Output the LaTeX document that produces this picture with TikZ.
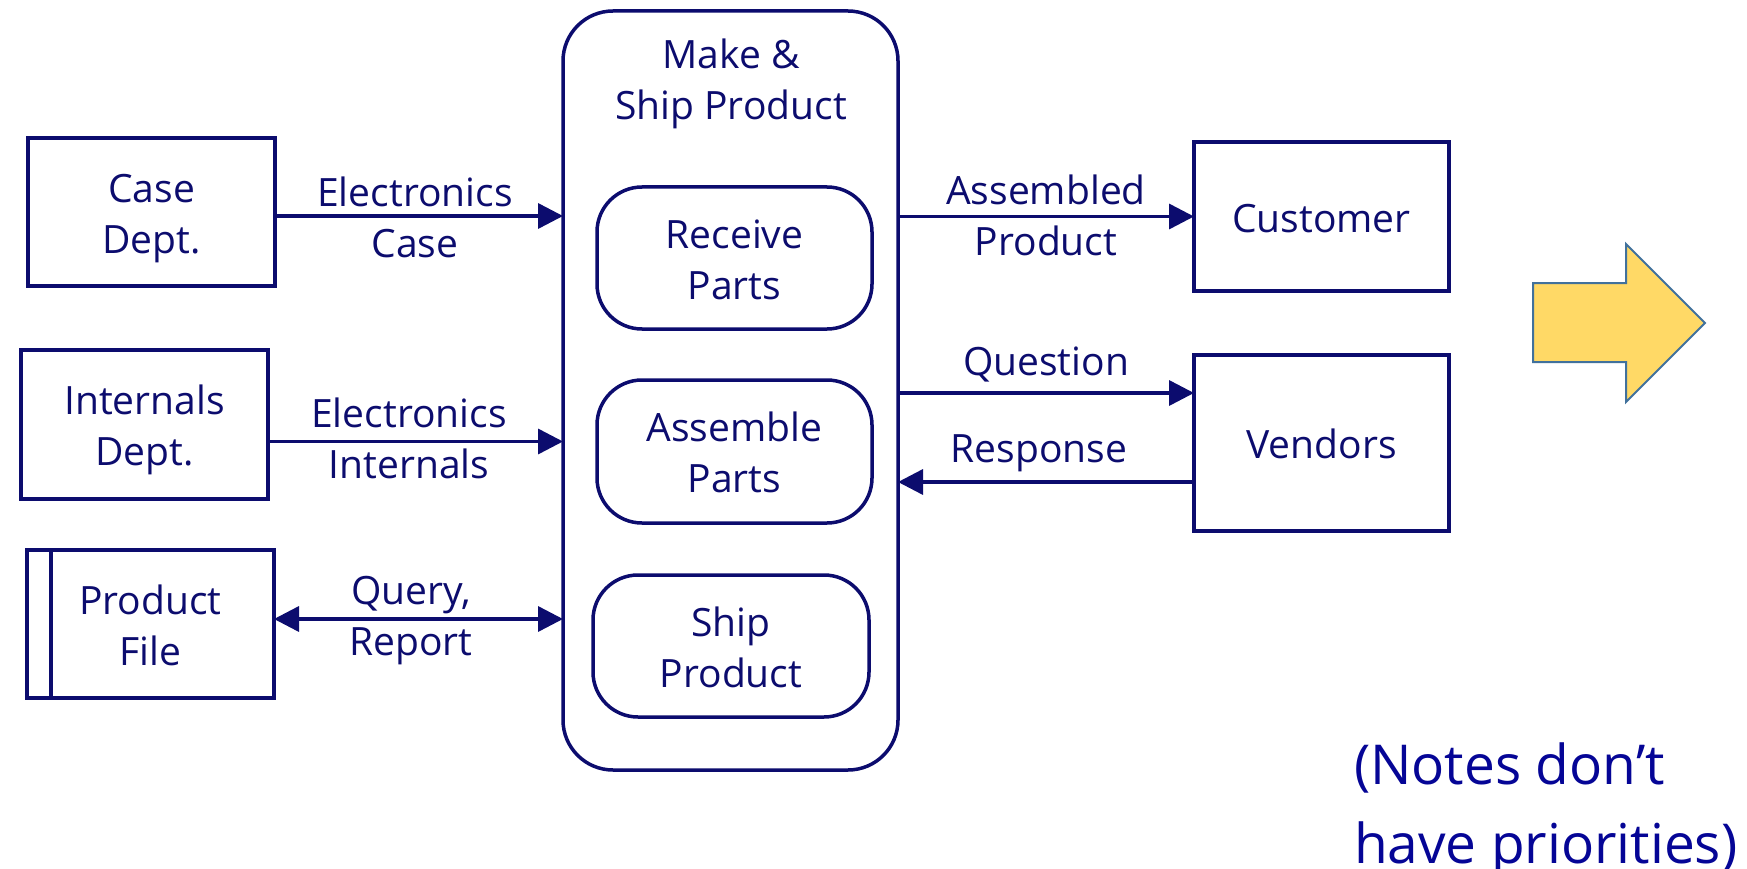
\documentclass[tikz,border=0pt]{standalone}
\usepackage{fontspec}
\setmainfont{Open Sans}
\usetikzlibrary{arrows.meta}
\definecolor{navy}{RGB}{12,12,110}
\definecolor{noteblue}{RGB}{5,5,150}
\definecolor{gold}{RGB}{255,217,102}
\definecolor{goldline}{RGB}{65,113,156}
\newcommand{\ls}{\rule[-10pt]{0pt}{51pt}}
\newcommand{\ns}{\rule[-20pt]{0pt}{79pt}}
\begin{document}
\begin{tikzpicture}[x=1pt,y=-1pt,
  every node/.style={font=\fontsize{39}{51}\selectfont, text=navy, inner sep=0pt, outer sep=0pt, align=center},
  box/.style={draw=navy, line width=4pt, rectangle},
  proc/.style={draw=navy, line width=3.5pt, rectangle, rounded corners=45pt},
  flow/.style={draw=navy, line width=3.5pt, -{Triangle[length=25pt,width=25pt]}},
  biflow/.style={draw=navy, line width=3.5pt, {Triangle[length=25pt,width=25pt]}-{Triangle[length=25pt,width=25pt]}}
]
\fill[white] (0,0) rectangle (1747,869);
\useasboundingbox (0,0) rectangle (1747,869);

% external entities
\node[box, minimum width=247pt, minimum height=148pt] (case) at (151.5,212) {\ls Case\\\ls Dept.};
\node[box, minimum width=247pt, minimum height=149pt] (intl) at (144.5,424.5) {\ls Internals\\\ls Dept.};
\node[box, minimum width=247pt, minimum height=148pt] (pfile) at (150.5,624) {\ls Product\\\ls File};
\draw[navy, line width=4pt] ([xshift=24pt]pfile.north west) -- ([xshift=24pt]pfile.south west);
\node[box, minimum width=255pt, minimum height=148pt] (cust) at (1321.5,216.5) {\ls Customer};
\node[box, minimum width=255pt, minimum height=176pt] (vend) at (1321.5,443) {\ls Vendors};

% main process
\node[draw=navy, line width=3.5pt, rectangle, rounded corners=50pt, minimum width=335pt, minimum height=759pt] (make) at (730.5,390.5) {};
\node (mtitle) at (731,79) {\ls Make \&\\\ls Ship Product};
\node[proc, minimum width=275pt, minimum height=142pt] (recv) at (734.5,258) {\ls Receive\\\ls Parts};
\node[proc, minimum width=275pt, minimum height=143pt] (asm) at (734.5,451.5) {\ls Assemble\\\ls Parts};
\node[proc, minimum width=276pt, minimum height=142pt] (ship) at (731,646) {\ls Ship\\\ls Product};

% flows
\draw[flow] ([yshift=-4pt]case.east) -- ([yshift=-4pt]case.east -| make.west)
  node[pos=0.486] {\ls Electronics\\\ls Case};
\draw[flow] ([yshift=-17pt]intl.east) -- ([yshift=-17pt]intl.east -| make.west)
  node[pos=0.478, yshift=4pt] {\ls Electronics\\\ls Internals};
\draw[biflow] ([yshift=5pt]pfile.east) -- ([yshift=5pt]pfile.east -| make.west)
  node[pos=0.474, yshift=5pt] {\ls Query,\\\ls Report};
\draw[flow] (make.east |- cust.west) -- (cust.west)
  node[midway, yshift=2.5pt] {\ls Assembled\\\ls Product};
\draw[flow] ([yshift=50pt]vend.west -| make.east) -- ([yshift=50pt]vend.west)
  node[midway, above=8pt] {\ls Question};
\draw[flow] ([yshift=-39pt]vend.west) -- ([yshift=-39pt]vend.west -| make.east)
  node[pos=0.524, above=10pt] {\ls Response};

% yellow block arrow
\draw[fill=gold, draw=goldline, line width=2pt, line join=miter]
  (1533,283) -- (1626,283) -- (1626,244) -- (1705,323) -- (1626,402) -- (1626,362) -- (1533,362) -- cycle;

% note
\node[font=\fontsize{55}{79}\selectfont, text=noteblue, align=left, anchor=north west] (notes) at (1354,725)
  {\ns(Notes don’t\\\ns have priorities)};
\end{tikzpicture}
\end{document}
